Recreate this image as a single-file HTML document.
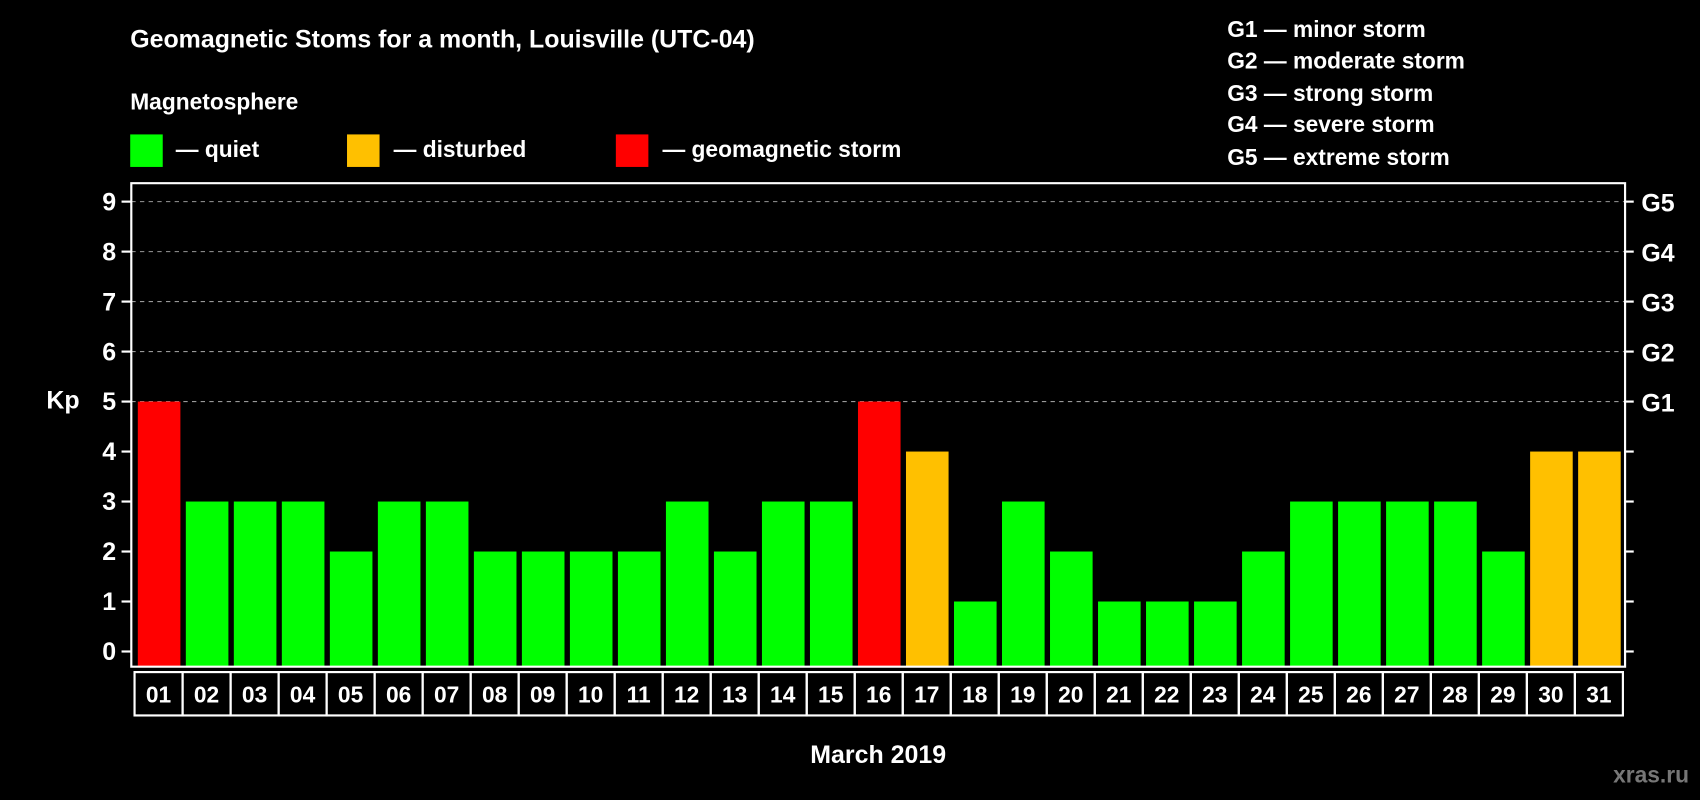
<!DOCTYPE html>
<html><head><meta charset="utf-8"><style>html,body{margin:0;padding:0;background:#000}svg{display:block}text{font-family:"Liberation Sans",sans-serif;font-weight:bold;fill:#fff}</style></head>
<body>
<svg id="chart" width="1700" height="800" viewBox="0 0 1568 738" xmlns="http://www.w3.org/2000/svg">
<rect width="1568" height="738" fill="#000"/>
<text x="120" y="44" font-size="23">Geomagnetic Stoms for a month, Louisville (UTC-04)</text>
<text x="120" y="101" font-size="21">Magnetosphere</text>
<g font-size="21">
<rect x="120" y="124" width="30" height="30" fill="#00ff00"/>
<text x="162" y="145">— quiet</text>
<rect x="320" y="124" width="30" height="30" fill="#ffc000"/>
<text x="363" y="145">— disturbed</text>
<rect x="568" y="124" width="30" height="30" fill="#ff0000"/>
<text x="611" y="145">— geomagnetic storm</text>
</g>
<g font-size="21">
<text x="1132" y="34">G1 — minor storm</text>
<text x="1132" y="63">G2 — moderate storm</text>
<text x="1132" y="93">G3 — strong storm</text>
<text x="1132" y="122">G4 — severe storm</text>
<text x="1132" y="152">G5 — extreme storm</text>
</g>
<text x="58" y="377" font-size="23" text-anchor="middle">Kp</text>
<text x="810" y="704" font-size="23" text-anchor="middle">March 2019</text>
<text x="1558" y="722" font-size="21" text-anchor="end" style="fill:#777">xras.ru</text>
<g id="grid"></g><g id="bars"></g><g id="axes"></g>
</svg>
<script>
const days=["01","02","03","04","05","06","07","08","09","10","11","12","13","14","15","16","17","18","19","20","21","22","23","24","25","26","27","28","29","30","31"];
const kp=[5,3,3,3,2,3,3,2,2,2,2,3,2,3,3,5,4,1,3,2,1,1,1,2,3,3,3,3,2,4,4];
const yTicks=[0,1,2,3,4,5,6,7,8,9];
const gLabels=["G1","G2","G3","G4","G5"];
const gLevels=[5,6,7,8,9];
const NS="http://www.w3.org/2000/svg";
const L=121,R=1499,T=169,B=615,x0=124,slot=(1497-124)/31;
const y=v=>601-v*(601-186)/9;
const xs=i=>x0+i*slot;
function mk(t,a,p){const e=document.createElementNS(NS,t);for(const k in a)e.setAttribute(k,a[k]);p.appendChild(e);return e;}
const grid=document.getElementById('grid'),bars=document.getElementById('bars'),axes=document.getElementById('axes');
gLevels.forEach(v=>{const l=mk('line',{x1:L,x2:R,y1:y(v),y2:y(v),stroke:'#999','stroke-dasharray':'4,4','stroke-width':1},grid);

});
kp.forEach((v,i)=>{const c=v>=5?'#ff0000':(v>=4?'#ffc000':'#00ff00');
const r=mk('rect',{x:xs(i)+3,y:y(v),width:slot-5,height:y(0)-y(v)+14,fill:c},bars);


const b=mk('rect',{x:xs(i),y:620,width:slot,height:40,fill:'none',stroke:'#fff','stroke-width':2},axes);


const t=mk('text',{x:xs(i)+slot/2,y:648,'font-size':21,'text-anchor':'middle'},axes);t.textContent=days[i];

});
const fr=mk('path',{d:`M${L} ${T}H${R}V${B}H${L}Z`,fill:'none',stroke:'#fff','stroke-width':2},axes);


yTicks.forEach(v=>{mk('line',{x1:L-9,x2:L,y1:y(v),y2:y(v),stroke:'#fff','stroke-width':2},axes);
mk('line',{x1:R,x2:R+8,y1:y(v),y2:y(v),stroke:'#fff','stroke-width':2},axes);
const t=mk('text',{x:L-14,y:y(v)+8,'font-size':23,'text-anchor':'end'},axes);t.textContent=v;

});
gLabels.forEach((g,i)=>{const t=mk('text',{x:R+15,y:y(gLevels[i])+9,'font-size':23},axes);t.textContent=g;

});
</script>
</body></html>
